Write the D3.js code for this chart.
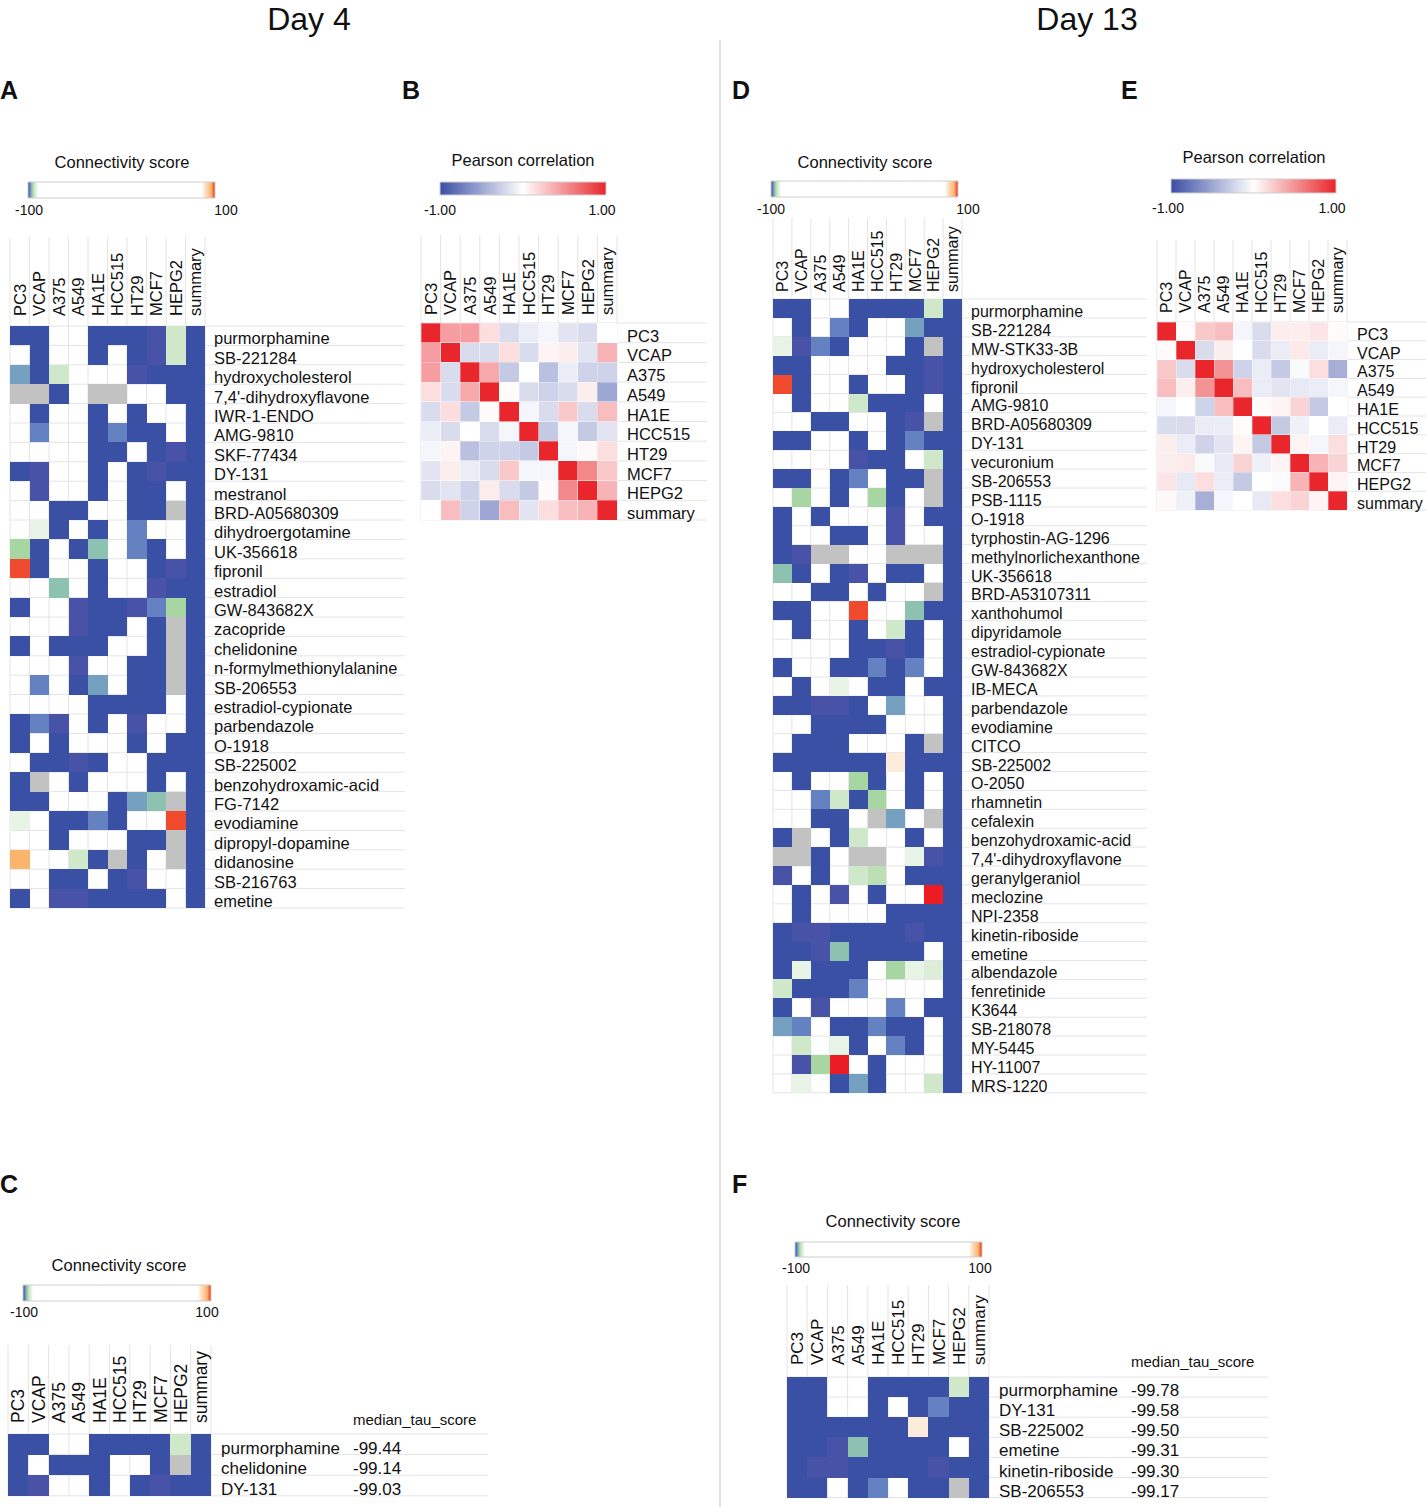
<!DOCTYPE html>
<html lang="en">
<head>
<meta charset="UTF-8">
<title>Connectivity score heatmaps</title>
<script src="https://cdnjs.cloudflare.com/ajax/libs/d3/7.8.5/d3.min.js"></script>
<style>
  body { margin: 0; background: #fff; }
  svg text { font-family: "Liberation Sans", Arial, Helvetica, sans-serif; fill: #111; }
</style>
</head>
<body>
<div id="draw-here"></div>
<script>
var W = 1426, H = 1507;

// cell lines (columns) used by every panel
var cellLines = ["PC3", "VCAP", "A375", "A549", "HA1E", "HCC515", "HT29", "MCF7", "HEPG2", "summary"];

// ---- Day 4 ----
var drugsA = ["purmorphamine", "SB-221284", "hydroxycholesterol", "7,4'-dihydroxyflavone", "IWR-1-ENDO",
  "AMG-9810", "SKF-77434", "DY-131", "mestranol", "BRD-A05680309", "dihydroergotamine", "UK-356618",
  "fipronil", "estradiol", "GW-843682X", "zacopride", "chelidonine", "n-formylmethionylalanine",
  "SB-206553", "estradiol-cypionate", "parbendazole", "O-1918", "SB-225002", "benzohydroxamic-acid",
  "FG-7142", "evodiamine", "dipropyl-dopamine", "didanosine", "SB-216763", "emetine"];
// connectivity scores, null = not available (grey)
var scoresA = [
  [-100, -100, 0, 0, -100, -100, -100, -99, -93, -100],
  [0, -100, 0, 0, -100, 0, -100, -99, -93, -100],
  [-97, -100, -93, 0, 0, 0, -99, -100, -100, -100],
  [null, null, -100, 0, null, null, 0, 0, -100, -100],
  [0, -100, 0, 0, -100, 0, -100, 0, 0, -100],
  [0, -98, 0, 0, -100, -98, -100, -100, 0, -100],
  [0, 0, 0, 0, -100, -100, 0, -100, -99, -100],
  [-100, -99, 0, 0, -100, 0, -100, -99, -100, -100],
  [0, -99, 0, 0, -100, 0, -100, -100, 0, -100],
  [0, 0, -100, -100, 0, 0, -100, -100, null, -100],
  [0, -91, -100, 0, -100, 0, -98, 0, 0, -100],
  [-95, -100, 0, -100, -96, 0, -98, -100, 0, -100],
  [99, -100, 0, 0, -100, 0, 0, -100, -99, -100],
  [0, 0, -96, 0, -100, 0, 0, -99, -100, -100],
  [-100, 0, 0, -99, -100, -100, -99, -98, -95, -100],
  [0, 0, 0, -99, -100, -100, 0, -100, null, -100],
  [-100, 0, -100, -100, -100, 0, 0, -100, null, -100],
  [0, 0, 0, -99, 0, 0, -100, -100, null, -100],
  [0, -98, 0, -100, -97, 0, -100, -100, null, -100],
  [0, 0, 0, 0, -100, -100, -100, -100, 0, -100],
  [-100, -98, -99, 0, -100, 0, -99, 0, 0, -100],
  [-100, 0, -100, 0, 0, 0, -100, 0, -100, -100],
  [0, -100, -100, -99, -100, 0, 0, -100, -100, -100],
  [-100, null, 0, -100, 0, 0, 0, -100, 0, -100],
  [-100, -100, 0, 0, 0, -100, -97, -96, null, -100],
  [-91, 0, -100, -100, -98, -100, 0, 0, 99, -100],
  [0, 0, -100, 0, 0, 0, -100, -100, null, -100],
  [96, 0, 0, -93, -100, null, -100, 0, null, -100],
  [0, 0, -100, -100, 0, -100, -99, 0, 0, -100],
  [-100, 0, -99, -99, -100, -100, -100, -100, 0, -100]
];

var corrB = [
  [1.00, 0.45, 0.45, 0.15, -0.20, -0.10, -0.05, -0.15, -0.20, 0.00],
  [0.45, 1.00, -0.20, -0.20, 0.15, -0.20, 0.05, 0.08, -0.15, 0.35],
  [0.45, -0.20, 1.00, 0.40, -0.30, 0.00, -0.35, -0.10, -0.25, -0.25],
  [0.15, -0.20, 0.40, 1.00, 0.02, -0.20, -0.25, -0.20, 0.08, -0.50],
  [-0.20, 0.15, -0.30, 0.02, 1.00, -0.05, -0.20, 0.25, -0.20, 0.30],
  [-0.10, -0.20, 0.00, -0.20, -0.05, 1.00, -0.30, -0.05, -0.30, -0.15],
  [-0.05, 0.05, -0.35, -0.25, -0.25, -0.30, 1.00, -0.05, 0.03, 0.15],
  [-0.15, 0.08, -0.10, -0.20, 0.25, -0.05, -0.05, 1.00, 0.55, 0.25],
  [-0.20, -0.15, -0.25, 0.08, -0.20, -0.30, 0.02, 0.55, 1.00, 0.35],
  [0.00, 0.30, -0.25, -0.50, 0.30, -0.15, 0.15, 0.30, 0.35, 1.00]
];

var drugsC = ["purmorphamine", "chelidonine", "DY-131"];
var scoresC = [
  [-100, -100, 0, 0, -100, -100, -100, -100, -93, -100],
  [-100, 0, -100, -100, -100, 0, 0, -100, null, -100],
  [-100, -99, 0, 0, -100, 0, -100, -99, -100, -100]
];
var tauC = [-99.44, -99.14, -99.03];

// ---- Day 13 ----
var drugsD = ["purmorphamine", "SB-221284", "MW-STK33-3B", "hydroxycholesterol", "fipronil", "AMG-9810",
  "BRD-A05680309", "DY-131", "vecuronium", "SB-206553", "PSB-1115", "O-1918", "tyrphostin-AG-1296",
  "methylnorlichexanthone", "UK-356618", "BRD-A53107311", "xanthohumol", "dipyridamole",
  "estradiol-cypionate", "GW-843682X", "IB-MECA", "parbendazole", "evodiamine", "CITCO", "SB-225002",
  "O-2050", "rhamnetin", "cefalexin", "benzohydroxamic-acid", "7,4'-dihydroxyflavone", "geranylgeraniol",
  "meclozine", "NPI-2358", "kinetin-riboside", "emetine", "albendazole", "fenretinide", "K3644",
  "SB-218078", "MY-5445", "HY-11007", "MRS-1220"];
var scoresD = [
  [-100, -100, 0, 0, -100, -100, -100, -100, -93, -100],
  [0, -100, 0, -98, -100, 0, 0, -97, -100, -100],
  [-91, -99, -98, -100, 0, 0, 0, -100, null, -100],
  [-100, -100, 0, 0, 0, 0, -100, -100, -99, -100],
  [99, -100, 0, 0, -100, 0, 0, -100, -99, -100],
  [0, -100, 0, 0, -93, -100, -100, -100, 0, -100],
  [0, 0, -100, -100, 0, 0, -100, -99, null, -100],
  [-100, -100, 0, 0, -100, 0, -100, -98, -100, -100],
  [0, 0, 0, 0, -99, -100, -100, 0, -93, -100],
  [-100, -100, 0, -100, -98, 0, -100, -100, null, -100],
  [0, -95, 0, -100, 0, -95, -100, 0, null, -100],
  [-100, 0, -100, 0, 0, 0, -99, 0, -100, -100],
  [-100, 0, 0, -100, -100, 0, -99, 0, 0, -100],
  [-100, -99, null, null, 0, 0, null, null, null, -100],
  [-96, -100, 0, -100, -99, 0, -100, -100, 0, -100],
  [0, 0, -100, -100, 0, -100, 0, 0, null, -100],
  [-100, -100, 0, 0, 99, 0, 0, -96, -100, -100],
  [0, -100, 0, 0, -100, 0, -93, -100, 0, -100],
  [0, 0, 0, 0, -100, -100, -99, -100, 0, -100],
  [-100, 0, 0, -100, -100, -98, -100, -98, 0, -100],
  [0, -100, 0, -91, 0, -100, -100, 0, -100, -100],
  [-100, -100, -99, -99, -100, 0, -97, 0, 0, -100],
  [0, 0, -100, -100, -100, -100, 0, 0, 0, -100],
  [0, -100, -100, -100, 0, 0, 0, -100, null, -100],
  [-100, -100, -100, -100, -100, -100, 88, -100, -100, -100],
  [0, -100, 0, 0, -95, -100, 0, -100, 0, -100],
  [0, 0, -98, -93, -100, -95, 0, -100, 0, -100],
  [0, 0, -100, -100, 0, null, -97, 0, null, -100],
  [-100, null, 0, -100, -93, 0, 0, -100, 0, -100],
  [null, null, -100, 0, null, null, 0, -91, -99, -100],
  [-99, 0, -100, 0, -93, -94, 0, -100, -100, -100],
  [0, -100, 0, -99, 0, -100, 0, 0, 100, -100],
  [0, -100, 0, 0, 0, 0, -100, -100, -100, -100],
  [-100, -99, -99, -100, -100, -100, -100, -99, -100, -100],
  [-100, -100, -99, -96, -100, -100, -100, -100, 0, -100],
  [-100, -91, -100, -100, -100, 0, -95, -91, -92, -100],
  [-93, -100, -100, -100, -98, 0, 0, 0, 0, -100],
  [-100, 0, -99, 0, 0, 0, -98, 0, -100, -100],
  [-97, -98, 0, -100, -100, -98, -100, -100, 0, -100],
  [0, -93, 0, -91, -100, 0, -98, -100, 0, -100],
  [0, -99, -95, 100, 0, -100, 0, 0, 0, -100],
  [0, -91, 0, -100, -97, -100, 0, 0, -93, -100]
];

var corrE = [
  [1.00, 0.02, 0.25, 0.30, -0.05, -0.20, 0.08, 0.08, 0.12, 0.02],
  [0.02, 1.00, -0.20, 0.08, 0.00, -0.20, -0.10, 0.10, -0.10, -0.05],
  [0.25, -0.20, 1.00, 0.50, -0.25, -0.10, -0.30, -0.03, 0.15, -0.45],
  [0.30, 0.08, 0.50, 1.00, 0.30, -0.10, -0.15, -0.12, -0.10, -0.05],
  [-0.05, 0.00, -0.25, 0.30, 1.00, 0.02, 0.05, 0.20, -0.30, 0.00],
  [-0.20, -0.20, -0.10, -0.10, 0.02, 1.00, -0.30, -0.08, 0.00, -0.10],
  [0.08, -0.10, -0.25, -0.15, 0.05, -0.30, 1.00, 0.05, -0.05, 0.15],
  [0.08, 0.10, -0.03, -0.12, 0.20, -0.08, 0.05, 1.00, 0.35, 0.20],
  [0.12, -0.12, 0.15, -0.10, -0.30, 0.00, -0.02, 0.35, 1.00, 0.05],
  [0.03, -0.08, -0.45, -0.05, 0.00, -0.12, 0.15, 0.20, 0.05, 1.00]
];

var drugsF = ["purmorphamine", "DY-131", "SB-225002", "emetine", "kinetin-riboside", "SB-206553"];
var scoresF = [
  [-100, -100, 0, 0, -100, -100, -100, -100, -93, -100],
  [-100, -100, 0, 0, -100, 0, -100, -98, -100, -100],
  [-100, -100, -100, -100, -100, -100, 88, -100, -100, -100],
  [-100, -100, -99, -96, -100, -100, -100, -100, 0, -100],
  [-100, -99, -99, -100, -100, -100, -100, -99, -100, -100],
  [-100, -100, 0, -100, -98, 0, -100, -100, null, -100]
];
var tauF = [-99.78, -99.58, -99.50, -99.31, -99.30, -99.17];

// ---- colour scales ----
var scoreColor = d3.scaleLinear()
  .domain([-100, -99, -98, -97, -96, -95, -93, -91, -89, 86, 88, 96, 99, 100])
  .range(["#3a50a5", "#4853a8", "#6482c2", "#76a0c0", "#8dc1b0", "#a8d6a2", "#cfe8ca", "#e8f4e5",
          "#ffffff", "#ffffff", "#fdecdc", "#fbb46c", "#ef4a2e", "#ec1c24"])
  .clamp(true);
var corrColor = d3.scaleLinear().domain([-1, 0, 1]).range(["#3b4ea6", "#ffffff", "#e8262b"]).clamp(true);

var svg = d3.select("#draw-here").append("svg").attr("width", W).attr("height", H);
var defs = svg.append("defs");

function addGradient(id, scale, lo, hi) {
  var grad = defs.append("linearGradient").attr("id", id);
  grad.selectAll("stop").data(d3.range(0, 201)).enter().append("stop")
    .attr("offset", function(d) { return d / 200; })
    .attr("stop-color", function(d) { return scale(lo + (hi - lo) * d / 200); });
}
addGradient("grad-score", scoreColor, -100, 100);
addGradient("grad-corr", corrColor, -1, 1);

// titles, divider, panel letters
svg.append("line").attr("x1", 720).attr("x2", 720).attr("y1", 40).attr("y2", H)
  .attr("stroke", "#d9d9d9").attr("stroke-width", 1.5);
svg.append("text").attr("x", 309).attr("y", 30).attr("text-anchor", "middle")
  .style("font-size", "32px").text("Day 4");
svg.append("text").attr("x", 1087).attr("y", 30).attr("text-anchor", "middle")
  .style("font-size", "32px").text("Day 13");

var letters = [["A", 0, 99], ["B", 402, 99], ["C", 0, 1193], ["D", 732, 99], ["E", 1121, 99], ["F", 732, 1193]];
svg.selectAll(".letter").data(letters).enter().append("text")
  .attr("x", function(d) { return d[1]; })
  .attr("y", function(d) { return d[2]; })
  .style("font-size", "25px").style("font-weight", "bold")
  .text(function(d) { return d[0]; });

function legend(o) {
  var g = svg.append("g");
  g.append("text").attr("x", o.cx).attr("y", o.ty).attr("text-anchor", "middle")
    .style("font-size", o.tfs + "px").text(o.title);
  g.append("rect").attr("x", o.x).attr("y", o.y).attr("width", o.w).attr("height", o.h)
    .attr("fill", "url(#" + o.grad + ")").attr("stroke", "#cfcfcf").attr("stroke-width", 1);
  g.selectAll(".tick").data(o.ticks).enter().append("text")
    .attr("x", function(d) { return d[1]; })
    .attr("y", o.tickY)
    .attr("text-anchor", "middle")
    .style("font-size", "14px")
    .text(function(d) { return d[0]; });
}

function heatmap(o) {
  var g = svg.append("g");
  var rowsH = o.rowH * o.rows.length;
  var x = d3.scaleBand().domain(cellLines).range([o.x0, o.x0 + o.w]);
  var y = d3.scaleBand().domain(o.rows).range([o.y0, o.y0 + rowsH]);
  var bw = x.bandwidth(), bh = y.bandwidth();

  // guide lines
  g.selectAll(".vl").data(d3.range(cellLines.length + 1)).enter().append("line")
    .attr("x1", function(i) { return o.x0 + i * bw; })
    .attr("x2", function(i) { return o.x0 + i * bw; })
    .attr("y1", o.headTop).attr("y2", o.y0 + rowsH)
    .attr("stroke", "#e4e4e4").attr("stroke-width", 1);
  g.selectAll(".hl").data(d3.range(o.rows.length + 1)).enter().append("line")
    .attr("x1", o.x0).attr("x2", o.lineEnd)
    .attr("y1", function(i) { return o.y0 + i * bh; })
    .attr("y2", function(i) { return o.y0 + i * bh; })
    .attr("stroke", "#e4e4e4").attr("stroke-width", 1);

  // cells
  var cells = [];
  o.values.forEach(function(row, r) {
    row.forEach(function(v, c) { cells.push({ r: o.rows[r], c: cellLines[c], v: v }); });
  });
  g.selectAll(".cell").data(cells).enter().append("rect")
    .attr("x", function(d) { return x(d.c); })
    .attr("y", function(d) { return y(d.r); })
    .attr("width", bw).attr("height", bh)
    .attr("shape-rendering", "crispEdges")
    .attr("fill", function(d) {
      if (d.v === null) return "#c2c2c2";
      var col = o.color(d.v);
      return (o.clearWhite && d3.color(col).formatHex() === "#ffffff") ? "none" : col;
    })
    .attr("stroke", o.cellStroke || "none")
    .attr("stroke-width", 0.6);

  // column labels (rotated)
  g.selectAll(".cl").data(cellLines).enter().append("text")
    .attr("transform", function(d) {
      return "translate(" + (x(d) + bw / 2 + o.colFs * 0.36) + "," + o.labelBottom + ") rotate(-90)";
    })
    .style("font-size", o.colFs + "px")
    .text(function(d) { return d; });

  // row labels
  g.selectAll(".rl").data(o.rows).enter().append("text")
    .attr("x", o.labelX)
    .attr("y", function(d) { return y(d) + bh - 1; })
    .style("font-size", o.fs + "px")
    .text(function(d) { return d; });

  if (o.tau) {
    g.append("text").attr("x", o.tauX).attr("y", o.tauHeadY)
      .style("font-size", "15px").text("median_tau_score");
    g.selectAll(".tau").data(o.tau).enter().append("text")
      .attr("x", o.tauX)
      .attr("y", function(d, i) { return y(o.rows[i]) + bh - 1; })
      .style("font-size", o.fs + "px")
      .text(function(d) { return d.toFixed(2); });
  }
}

// Panel A
legend({ title: "Connectivity score", tfs: 16.5, cx: 122, ty: 168, x: 28, y: 182, w: 187, h: 16,
  grad: "grad-score", ticks: [["-100", 29], ["100", 226]], tickY: 215 });
heatmap({ rows: drugsA, values: scoresA, color: scoreColor, clearWhite: true,
  x0: 10, w: 195, y0: 326, rowH: 19.4, headTop: 237, labelBottom: 316,
  labelX: 214, lineEnd: 405, fs: 16.5, colFs: 16.5 });

// Panel B
legend({ title: "Pearson correlation", tfs: 16.5, cx: 523, ty: 166, x: 440, y: 182, w: 166, h: 13,
  grad: "grad-corr", ticks: [["-1.00", 440], ["1.00", 602]], tickY: 215 });
heatmap({ rows: cellLines, values: corrB, color: corrColor, cellStroke: "rgba(255,255,255,0.5)",
  x0: 421, w: 196, y0: 323, rowH: 19.7, headTop: 235, labelBottom: 315,
  labelX: 627, lineEnd: 707, fs: 16.5, colFs: 16.5 });

// Panel C
legend({ title: "Connectivity score", tfs: 16.5, cx: 119, ty: 1271, x: 23, y: 1285, w: 188, h: 16,
  grad: "grad-score", ticks: [["-100", 24], ["100", 207]], tickY: 1317 });
heatmap({ rows: drugsC, values: scoresC, color: scoreColor, clearWhite: true,
  x0: 8, w: 203, y0: 1434, rowH: 20.6, headTop: 1345, labelBottom: 1423,
  labelX: 221, lineEnd: 488, fs: 17, colFs: 17.5, tau: tauC, tauX: 353, tauHeadY: 1425 });

// Panel D
legend({ title: "Connectivity score", tfs: 16.5, cx: 865, ty: 168, x: 771, y: 181, w: 187, h: 16,
  grad: "grad-score", ticks: [["-100", 771], ["100", 968]], tickY: 214 });
heatmap({ rows: drugsD, values: scoresD, color: scoreColor, clearWhite: true,
  x0: 773, w: 189, y0: 299, rowH: 18.9, headTop: 218, labelBottom: 292,
  labelX: 971, lineEnd: 1147, fs: 16, colFs: 16 });

// Panel E
legend({ title: "Pearson correlation", tfs: 16.5, cx: 1254, ty: 163, x: 1171, y: 179, w: 165, h: 14,
  grad: "grad-corr", ticks: [["-1.00", 1168], ["1.00", 1332]], tickY: 213 });
heatmap({ rows: cellLines, values: corrE, color: corrColor, cellStroke: "rgba(255,255,255,0.5)",
  x0: 1157, w: 190, y0: 322, rowH: 18.8, headTop: 240, labelBottom: 313,
  labelX: 1357, lineEnd: 1426, fs: 16, colFs: 16 });

// Panel F
legend({ title: "Connectivity score", tfs: 16.5, cx: 893, ty: 1227, x: 795, y: 1242, w: 187, h: 15,
  grad: "grad-score", ticks: [["-100", 796], ["100", 980]], tickY: 1273 });
heatmap({ rows: drugsF, values: scoresF, color: scoreColor, clearWhite: true,
  x0: 787, w: 202, y0: 1377, rowH: 20.1, headTop: 1285, labelBottom: 1365,
  labelX: 999, lineEnd: 1268, fs: 17, colFs: 17, tau: tauF, tauX: 1131, tauHeadY: 1367 });
</script>
</body>
</html>
